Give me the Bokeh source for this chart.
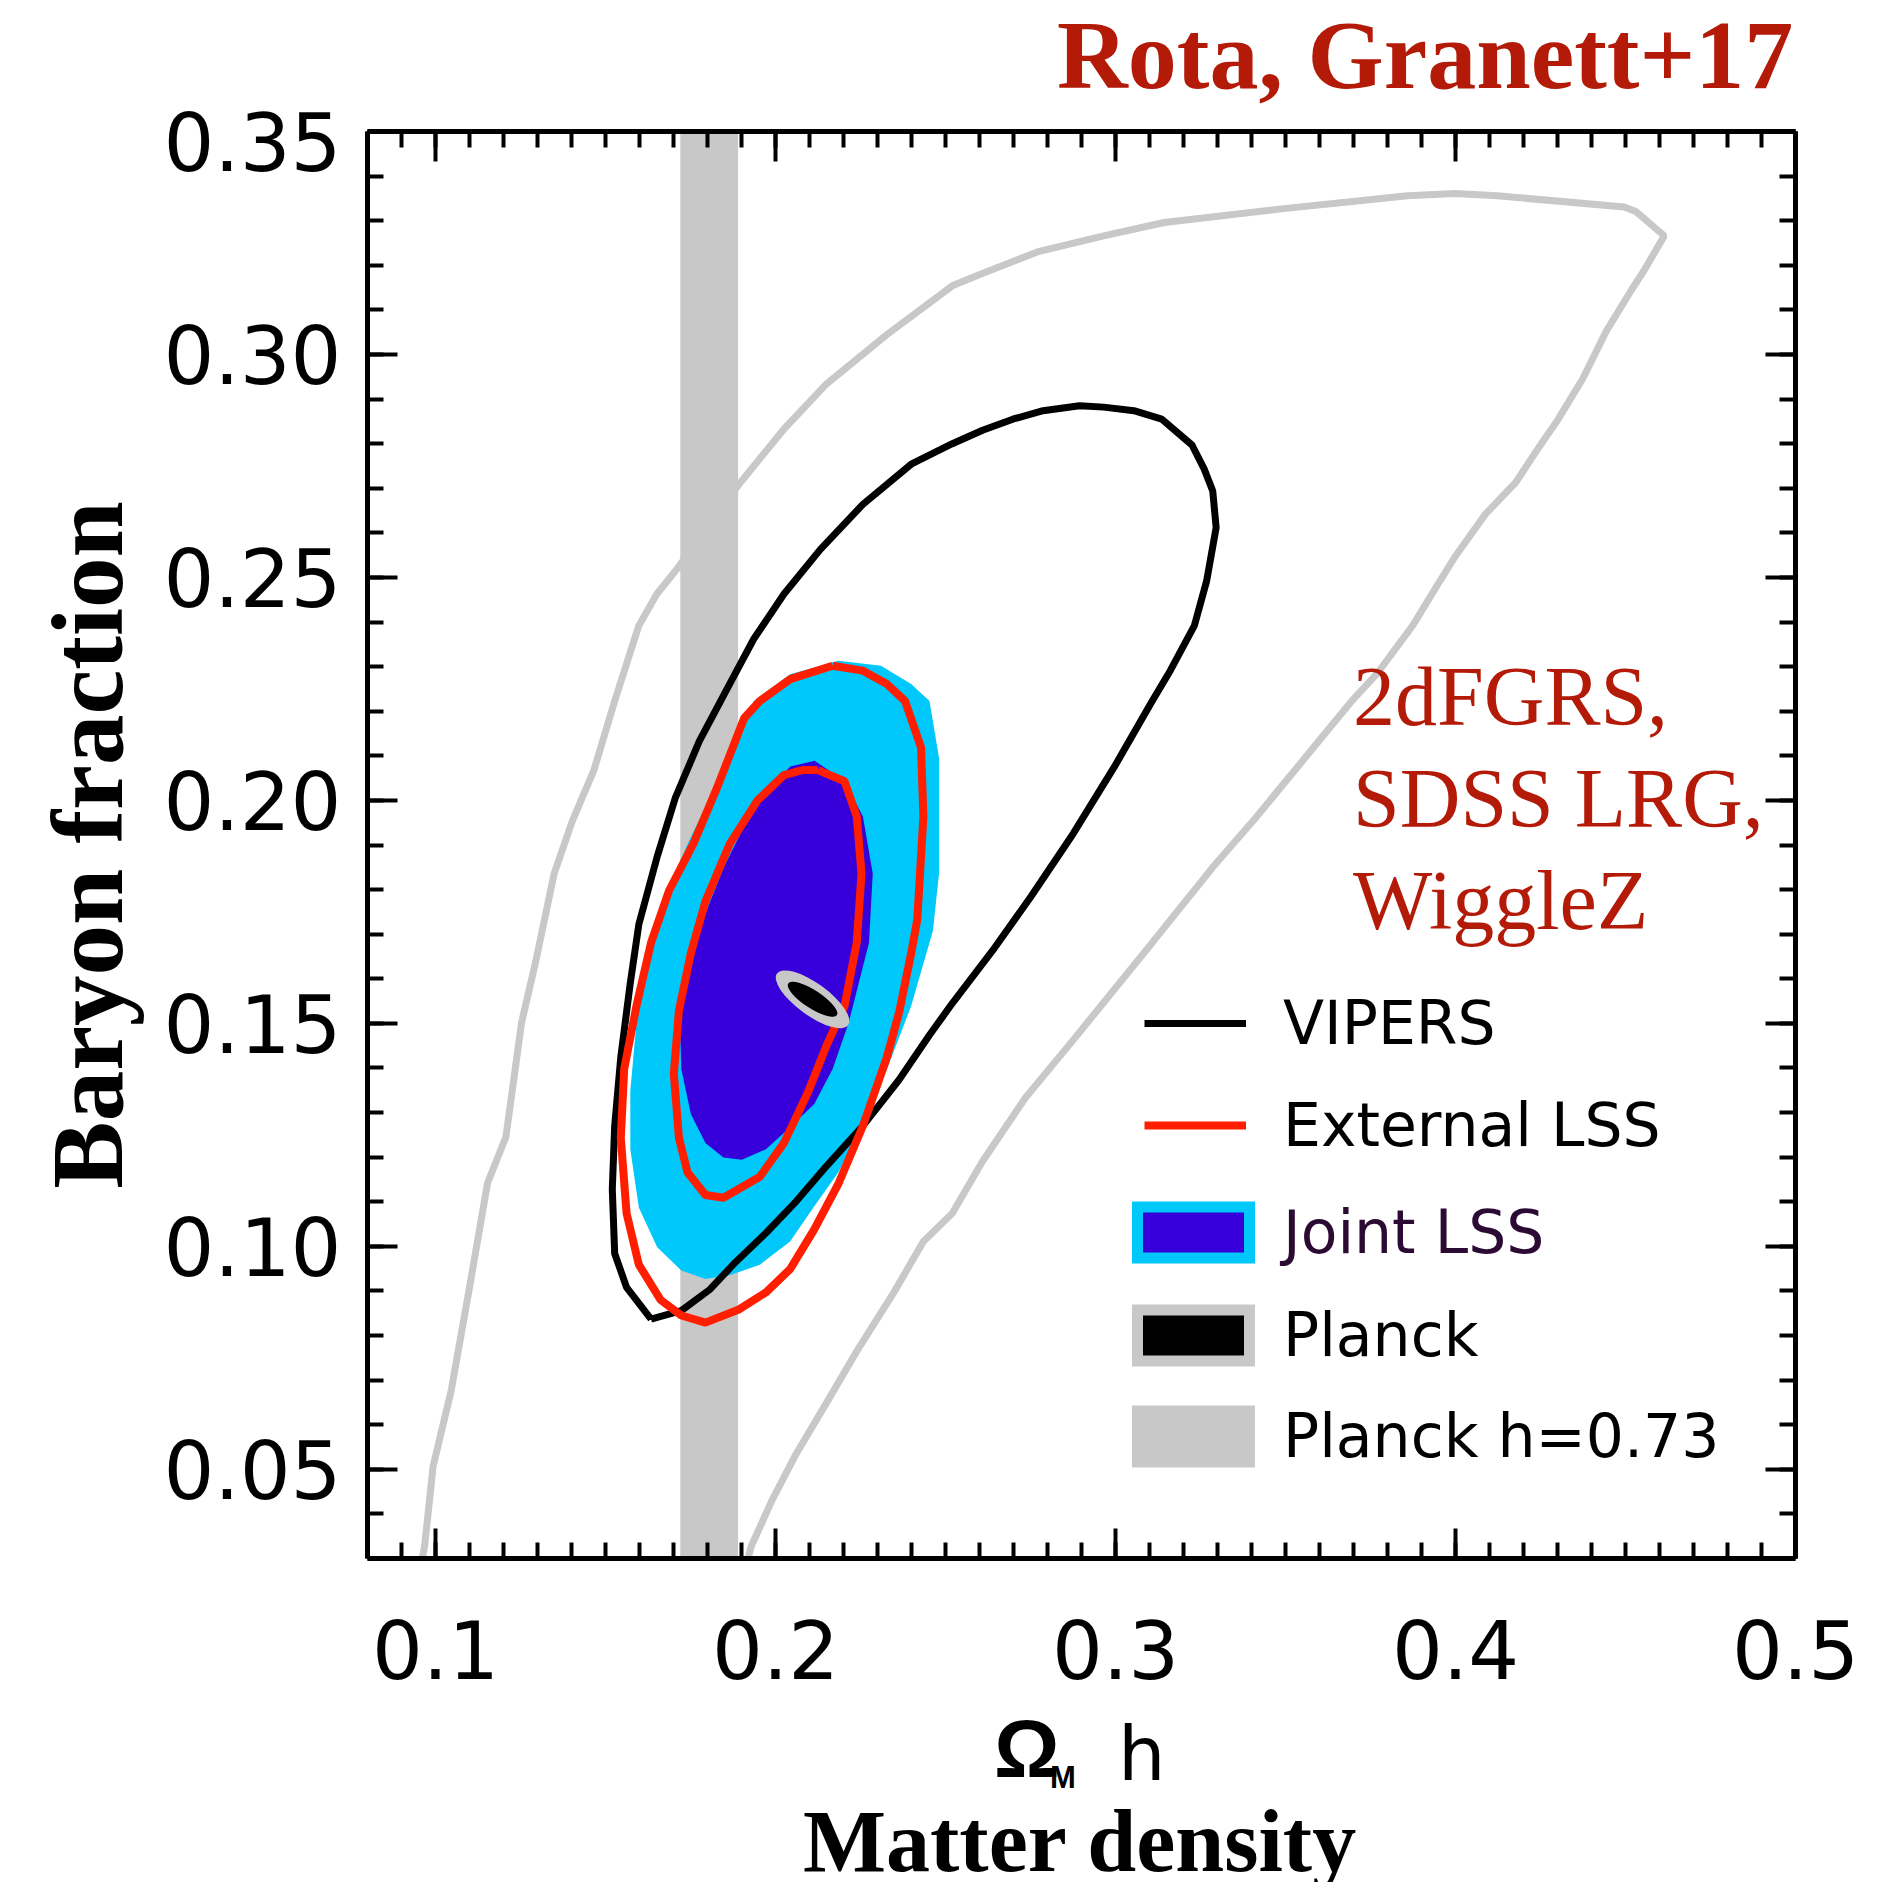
from bokeh.plotting import figure
from bokeh.layouts import column
from bokeh.models import (Range1d, SingleIntervalTicker, LinearAxis, Legend, LegendItem,
                          BoxAnnotation, PrintfTickFormatter)
from bokeh.embed import file_html
from bokeh.resources import INLINE

# ---------------- data ----------------
X_RANGE = (0.08, 0.5)
Y_RANGE = (0.03, 0.35001)

PLANCK_H_BAND = (0.172, 0.189)

GRAY_X = [0.0961, 0.0968, 0.0993, 0.1046, 0.1100, 0.1153, 0.1207, 0.1253, 0.1296, 0.1349,
          0.1402, 0.1466, 0.1527, 0.1598, 0.1651, 0.1705, 0.1897, 0.2025, 0.2150, 0.2328,
          0.2520, 0.2599, 0.2770, 0.2965, 0.3143, 0.3481, 0.3859, 0.3999, 0.4122, 0.4496,
          0.4532, 0.4614, 0.4551, 0.4516, 0.4444, 0.4373, 0.4302, 0.4248, 0.4177, 0.4088,
          0.3999, 0.3946, 0.3874, 0.3768, 0.3695, 0.3572, 0.3410, 0.3286, 0.3108, 0.2876,
          0.2734, 0.2609, 0.2520, 0.2435, 0.2346, 0.2240, 0.2150, 0.2061, 0.1990, 0.1929,
          0.1919]
GRAY_Y = [0.0300, 0.0328, 0.0507, 0.0676, 0.0908, 0.1142, 0.1245, 0.1501, 0.1643, 0.1836,
          0.1953, 0.2068, 0.2223, 0.2392, 0.2463, 0.2514, 0.2713, 0.2833, 0.2934, 0.3045,
          0.3154, 0.3179, 0.3230, 0.3266, 0.3296, 0.3326, 0.3356, 0.3361, 0.3356, 0.3331,
          0.3320, 0.3266, 0.3184, 0.3143, 0.3053, 0.2944, 0.2855, 0.2795, 0.2713, 0.2642,
          0.2547, 0.2482, 0.2392, 0.2283, 0.2223, 0.2109, 0.1959, 0.1850, 0.1681, 0.1463,
          0.1332, 0.1191, 0.1074, 0.1011, 0.0894, 0.0766, 0.0649, 0.0535, 0.0431, 0.0328,
          0.0300]

VIPERS_X = [0.1634, 0.1562, 0.1527, 0.1520, 0.1527, 0.1545, 0.1573, 0.1598, 0.1652, 0.1705,
            0.1776, 0.1865, 0.1936, 0.2025, 0.2132, 0.2257, 0.2399, 0.2520, 0.2609, 0.2698,
            0.2787, 0.2894, 0.2965, 0.3054, 0.3136, 0.3225, 0.3261, 0.3286, 0.3296, 0.3268,
            0.3232, 0.3161, 0.3108, 0.3001, 0.2876, 0.2752, 0.2645, 0.2520, 0.2453, 0.2363,
            0.2257, 0.2150, 0.2061, 0.1972, 0.1883, 0.1805, 0.1723, 0.1634]
VIPERS_Y = [0.0837, 0.0908, 0.0984, 0.1128, 0.1270, 0.1425, 0.1591, 0.1722, 0.1874, 0.2005,
            0.2133, 0.2261, 0.2362, 0.2463, 0.2563, 0.2664, 0.2754, 0.2800, 0.2830, 0.2855,
            0.2874, 0.2885, 0.2882, 0.2874, 0.2855, 0.2797, 0.2743, 0.2694, 0.2612, 0.2492,
            0.2392, 0.2291, 0.2223, 0.2081, 0.1926, 0.1785, 0.1670, 0.1545, 0.1474, 0.1373,
            0.1270, 0.1180, 0.1101, 0.1030, 0.0965, 0.0902, 0.0856, 0.0837]

EXT_OUT_X = [0.2168, 0.2043, 0.1954, 0.1908, 0.1829, 0.1758, 0.1687, 0.1634, 0.1591, 0.1555,
             0.1545, 0.1562, 0.1598, 0.1662, 0.1723, 0.1794, 0.1894, 0.1972, 0.2043, 0.2114,
             0.2186, 0.2257, 0.2328, 0.2364, 0.2399, 0.2417, 0.2435, 0.2428, 0.2381, 0.2328,
             0.2257, 0.2168]
EXT_OUT_Y = [0.2302, 0.2272, 0.2223, 0.2185, 0.2030, 0.1902, 0.1798, 0.1681, 0.1539, 0.1398,
             0.1243, 0.1074, 0.0959, 0.0880, 0.0845, 0.0829, 0.0859, 0.0897, 0.0949, 0.1038,
             0.1142, 0.1270, 0.1425, 0.1526, 0.1657, 0.1733, 0.1964, 0.2119, 0.2223, 0.2261,
             0.2291, 0.2302]
EXT_IN_X = [0.2125, 0.2203, 0.2239, 0.2253, 0.2239, 0.2203, 0.2150, 0.2096, 0.2025, 0.1954,
            0.1847, 0.1794, 0.1741, 0.1716, 0.1701, 0.1716, 0.1751, 0.1794, 0.1865, 0.1947,
            0.2025, 0.2079, 0.2125]
EXT_IN_Y = [0.2068, 0.2043, 0.1964, 0.1836, 0.1681, 0.1539, 0.1450, 0.1346, 0.1232, 0.1156,
            0.1109, 0.1115, 0.1166, 0.1243, 0.1387, 0.1529, 0.1657, 0.1774, 0.1902, 0.2000,
            0.2057, 0.2068, 0.2068]

JOINT2_X = [0.2185, 0.2043, 0.1936, 0.1901, 0.1822, 0.1741, 0.1669, 0.1627, 0.1591, 0.1573,
            0.1573, 0.1598, 0.1652, 0.1723, 0.1794, 0.1865, 0.1954, 0.2043, 0.2114, 0.2185,
            0.2257, 0.2328, 0.2399, 0.2463, 0.2481, 0.2481, 0.2453, 0.2399, 0.2310]
JOINT2_Y = [0.2313, 0.2283, 0.2223, 0.2147, 0.2030, 0.1902, 0.1774, 0.1646, 0.1501, 0.1349,
            0.1218, 0.1087, 0.0998, 0.0946, 0.0927, 0.0935, 0.0959, 0.1011, 0.1090, 0.1166,
            0.1270, 0.1398, 0.1539, 0.1708, 0.1836, 0.2095, 0.2223, 0.2261, 0.2302]
JOINT1_X = [0.2115, 0.2204, 0.2257, 0.2286, 0.2275, 0.2215, 0.2168, 0.2114, 0.2043, 0.1972,
            0.1901, 0.1847, 0.1794, 0.1751, 0.1723, 0.1719, 0.1741, 0.1787, 0.1848, 0.1912,
            0.1983, 0.2044]
JOINT1_Y = [0.2089, 0.2043, 0.1964, 0.1836, 0.1681, 0.1501, 0.1398, 0.1319, 0.1267, 0.1218,
            0.1194, 0.1199, 0.1232, 0.1297, 0.1398, 0.1501, 0.1618, 0.1733, 0.1850, 0.1948,
            0.2030, 0.2076]

PLANCK_X = [0.2109]
PLANCK_Y = [0.1554]

TITLE = "Rota, Granett+17"
SURVEY_LINES = ["2dFGRS,", "SDSS LRG,", "WiggleZ"]
LEGEND_LABELS = ["VIPERS", "External LSS", "Joint LSS", "Planck", "Planck h=0.73"]
X_LABEL_PARTS = ["Ω", "M", "h"]
X_LABEL_2 = "Matter density"
Y_LABEL = "Baryon fraction"

GREY = "#C8C8C8"
CYAN = "#00C8FA"
BLUE = "#3700DB"
RED = "#FF1E00"
TXT_RED = "#B41A08"
W = 1900


def add_legend(fig, labels, rend, vx, vy, gw, gh, standoff, font="DejaVu Sans", size="60px",
               style="normal", color="black", spacing=0):
    lg = Legend(items=[LegendItem(label=t, renderers=[rend]) for t in labels], location=(vx, vy),
                glyph_width=gw, glyph_height=gh, label_height=gh, label_standoff=standoff,
                label_text_font=font, label_text_font_size=size, label_text_font_style=style,
                label_text_color=color, padding=0, margin=0, spacing=spacing,
                border_line_color=None, background_fill_alpha=0,
                inactive_fill_alpha=0, click_policy="none")
    fig.add_layout(lg)


def text_strip(height):
    f = figure(width=W, height=height, x_range=Range1d(0, 1), y_range=Range1d(0, 1),
               x_axis_location=None, y_axis_location=None, min_border=0,
               output_backend="svg", toolbar_location=None,
               background_fill_color="white", border_fill_color="white")
    f.outline_line_color = None
    f.xgrid.visible = False
    f.ygrid.visible = False
    blank = f.line(VIPERS_X, VIPERS_Y, line_alpha=0, visible=False)
    return f, blank


# ---------------- top strip: reference tag (frame aligned with the main plot) ----------------
top, tb = text_strip(111)
add_legend(top, [TITLE], tb, 690, 0, 0, 1, 0, "Liberation Serif", "98px", "bold", TXT_RED)

# ---------------- main plot ----------------
p = figure(frame_width=1428, frame_height=1427,
           x_range=Range1d(*X_RANGE), y_range=Range1d(*Y_RANGE),
           x_axis_location=None, y_axis_location=None,
           output_backend="svg", toolbar_location=None,
           min_border_left=367, min_border_right=105, min_border_top=20, min_border_bottom=160,
           background_fill_color="white", border_fill_color="white")
p.outline_line_color = None
p.xgrid.visible = False
p.ygrid.visible = False


def make_axis(is_x, labelled):
    tk = (SingleIntervalTicker(interval=0.1, num_minor_ticks=10) if is_x
          else SingleIntervalTicker(interval=0.05, num_minor_ticks=5))
    ax = LinearAxis(ticker=tk, formatter=PrintfTickFormatter(format="%.1f" if is_x else "%.2f"))
    ax.axis_line_width = 5
    ax.axis_line_color = "black"
    ax.major_tick_line_width = 4
    ax.minor_tick_line_width = 4
    ax.major_tick_in = 30
    ax.major_tick_out = 0
    ax.minor_tick_in = 16
    ax.minor_tick_out = 0
    ax.major_label_text_font = "DejaVu Sans"
    if labelled:
        ax.major_label_text_color = "black"
        ax.major_label_text_font_size = "80px"
        ax.major_label_standoff = 61 if is_x else 26
    else:
        ax.major_label_text_color = None
        ax.major_label_text_font_size = "1px"
        ax.major_label_standoff = 0
    return ax


xb = make_axis(True, True)
yl = make_axis(False, True)
yl.axis_label = Y_LABEL
yl.axis_label_text_font = "Liberation Serif"
yl.axis_label_text_font_style = "bold"
yl.axis_label_text_font_size = "101px"
yl.axis_label_text_color = "black"
yl.axis_label_standoff = 16
p.add_layout(xb, "below")
p.add_layout(yl, "left")
p.add_layout(make_axis(True, False), "above")
p.add_layout(make_axis(False, False), "right")

p.add_layout(BoxAnnotation(left=PLANCK_H_BAND[0], right=PLANCK_H_BAND[1],
                           fill_color=GREY, fill_alpha=1.0, line_color=None, level="underlay"))

p.line(GRAY_X, GRAY_Y, line_color=GREY, line_width=7)
p.patch(JOINT2_X, JOINT2_Y, fill_color=CYAN, line_color=None)
p.patch(JOINT1_X, JOINT1_Y, fill_color=BLUE, line_color=None)
r_vipers = p.line(VIPERS_X, VIPERS_Y, line_color="black", line_width=7)
r_ext = p.line(EXT_OUT_X, EXT_OUT_Y, line_color=RED, line_width=8)
p.line(EXT_IN_X, EXT_IN_Y, line_color=RED, line_width=8)
p.ellipse(x=PLANCK_X, y=PLANCK_Y, width=88, height=32, angle=-36, angle_units="deg",
          width_units="screen", height_units="screen", fill_color=GREY, line_color=None)
p.ellipse(x=PLANCK_X, y=PLANCK_Y, width=58, height=18, angle=-33, angle_units="deg",
          width_units="screen", height_units="screen", fill_color="black", line_color=None)

# hidden proxies used only for legend swatches / text-only legends
r_joint = p.patch(JOINT1_X, JOINT1_Y, fill_color=BLUE, line_color=CYAN, line_width=11,
                  line_join="miter", visible=False)
r_planck = p.patch(JOINT1_X, JOINT1_Y, fill_color="black", line_color=GREY, line_width=11,
                   line_join="miter", visible=False)
r_planckh = p.patch(JOINT1_X, JOINT1_Y, fill_color=GREY, line_color=GREY, line_width=11,
                    line_join="miter", visible=False)
r_blank = p.line(VIPERS_X, VIPERS_Y, line_alpha=0, visible=False)

add_legend(p, [LEGEND_LABELS[0]], r_vipers, 777, 500, 102, 64, 37)
add_legend(p, [LEGEND_LABELS[1]], r_ext, 777, 398, 102, 64, 37)
add_legend(p, [LEGEND_LABELS[2]], r_joint, 756, 291, 140, 64, 20, color="#2B0A33")
add_legend(p, [LEGEND_LABELS[3]], r_planck, 756, 188, 140, 64, 20)
add_legend(p, [LEGEND_LABELS[4]], r_planckh, 756, 87, 140, 64, 20)
add_legend(p, SURVEY_LINES, r_blank, 986, 609, 0, 1, 0, "Liberation Serif", "84px", "normal",
           TXT_RED, spacing=5)

# ---------------- bottom strip: x-axis titles (frame aligned with the main plot) ----------------
bot, bb = text_strip(164)
add_legend(bot, [X_LABEL_PARTS[0]], bb, 627, 86, 0, 1, 0, "Liberation Sans", "82px", "bold")
add_legend(bot, [X_LABEL_PARTS[1]], bb, 683, 86, 0, 1, 0, "Liberation Sans", "31px", "bold")
add_legend(bot, [X_LABEL_PARTS[2]], bb, 751, 84, 0, 1, 0, "DejaVu Sans", "75px")
add_legend(bot, [X_LABEL_2], bb, 436, -10, 0, 1, 0, "Liberation Serif", "88px", "bold")

layout = column(top, p, bot, spacing=0)
open("out.html", "w").write(file_html(layout, INLINE))
